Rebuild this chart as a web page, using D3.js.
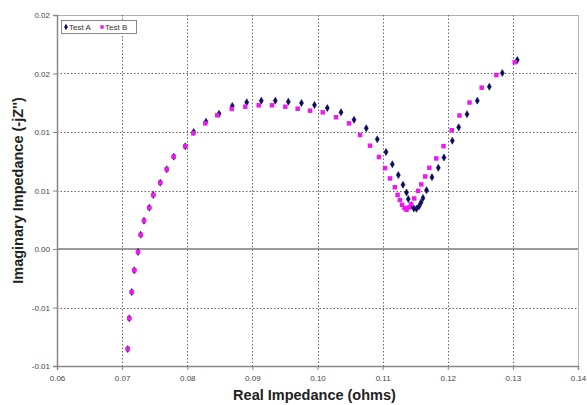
<!DOCTYPE html>
<html>
<head>
<meta charset="utf-8">
<script src="https://cdn.jsdelivr.net/npm/d3@7"></script>
<style>
body { margin: 0; background: #fff; }
</style>
</head>
<body>
<svg id="chart"></svg>
<script>
const totalWidth = 587;
const totalHeight = 405;
const margin = { left: 57, right: 9, top: 15, bottom: 39 };
const plotWidth = totalWidth - margin.left - margin.right;
const plotHeight = totalHeight - margin.top - margin.bottom;

// data (real part, imaginary part)
const seriesNames = ["Test A", "Test B"];
const testAReal = [0.07086, 0.07110, 0.07147, 0.07187, 0.07244, 0.07285, 0.07336, 0.07417, 0.07479, 0.07586,
	0.07685, 0.07792, 0.07970, 0.08099, 0.08288, 0.08488, 0.08692, 0.08913, 0.09137, 0.09352,
	0.09552, 0.09754, 0.09954, 0.10151, 0.10361, 0.10561, 0.10749, 0.10918, 0.11052, 0.11149,
	0.11241, 0.11313, 0.11367, 0.11394, 0.11440, 0.11479, 0.11520, 0.11559, 0.11589, 0.11620,
	0.11674, 0.11758, 0.11855, 0.11942, 0.12070, 0.12168, 0.12296, 0.12454, 0.12638, 0.12838,
	0.13068];
const testAImag = [-0.00855, -0.00592, -0.00368, -0.00182, -0.00026, 0.00122, 0.00242, 0.00353, 0.00462, 0.00567,
	0.00681, 0.00789, 0.00878, 0.01000, 0.01088, 0.01156, 0.01222, 0.01254, 0.01268, 0.01268,
	0.01259, 0.01248, 0.01231, 0.01205, 0.01168, 0.01105, 0.01032, 0.00938, 0.00829, 0.00724,
	0.00632, 0.00549, 0.00483, 0.00427, 0.00376, 0.00346, 0.00344, 0.00365, 0.00397, 0.00436,
	0.00503, 0.00614, 0.00694, 0.00782, 0.00925, 0.01040, 0.01152, 0.01268, 0.01387, 0.01504,
	0.01615];
const testBReal = [0.07086, 0.07110, 0.07147, 0.07187, 0.07244, 0.07285, 0.07336, 0.07417, 0.07479, 0.07586,
	0.07685, 0.07792, 0.07970, 0.08093, 0.08277, 0.08461, 0.08683, 0.08891, 0.09097, 0.09301,
	0.09506, 0.09696, 0.09885, 0.10080, 0.10284, 0.10484, 0.10653, 0.10806, 0.10944, 0.11037,
	0.11113, 0.11187, 0.11230, 0.11264, 0.11298, 0.11336, 0.11367, 0.11402, 0.11436, 0.11485,
	0.11546, 0.11594, 0.11654, 0.11717, 0.11824, 0.11935, 0.12061, 0.12180, 0.12334, 0.12521,
	0.12746, 0.13028];
const testBImag = [-0.00855, -0.00592, -0.00368, -0.00182, -0.00026, 0.00122, 0.00242, 0.00353, 0.00462, 0.00567,
	0.00681, 0.00789, 0.00878, 0.00989, 0.01074, 0.01143, 0.01197, 0.01216, 0.01228, 0.01228,
	0.01216, 0.01199, 0.01182, 0.01168, 0.01126, 0.01074, 0.00974, 0.00883, 0.00786, 0.00691,
	0.00603, 0.00528, 0.00463, 0.00419, 0.00378, 0.00349, 0.00335, 0.00355, 0.00382, 0.00432,
	0.00497, 0.00552, 0.00620, 0.00694, 0.00774, 0.00879, 0.01015, 0.01141, 0.01252, 0.01379,
	0.01487, 0.01596];

const xTicks = [0.06, 0.07, 0.08, 0.09, 0.10, 0.11, 0.12, 0.13, 0.14];
const yTicks = [-0.01, -0.005, 0, 0.005, 0.01, 0.015, 0.02];
const yTickLabels = ["-0.01", "-0.01", "0.00", "0.01", "0.01", "0.02", "0.02"];

const seriesA = testAReal.map((r, i) => ({ re: r, im: testAImag[i] }));
const seriesB = testBReal.map((r, i) => ({ re: r, im: testBImag[i] }));

const xScale = d3.scaleLinear().domain([0.06, 0.14]).range([0, plotWidth]);
const yScale = d3.scaleLinear().domain([-0.01, 0.02]).range([plotHeight, 0]);

const svg = d3.select("#chart")
	.attr("width", totalWidth)
	.attr("height", totalHeight)
	.style("font-family", "Arial, 'Liberation Sans', sans-serif");

const plot = svg.append("g").attr("transform", "translate(" + margin.left + "," + margin.top + ")");

// frame
plot.append("rect")
	.attr("x", 0.5).attr("y", 0.5)
	.attr("width", plotWidth).attr("height", plotHeight)
	.attr("fill", "none")
	.attr("stroke", "#b0b0b0");

// dotted grid
plot.append("g")
	.selectAll("line")
	.data(xTicks.slice(1, -1))
	.join("line")
	.attr("x1", (d) => Math.round(xScale(d)) + 0.5)
	.attr("x2", (d) => Math.round(xScale(d)) + 0.5)
	.attr("y1", 0).attr("y2", plotHeight)
	.attr("stroke", "#666")
	.attr("stroke-dasharray", "1.5,2");

plot.append("g")
	.selectAll("line")
	.data(yTicks.filter((d) => d !== 0 && d !== -0.01 && d !== 0.02))
	.join("line")
	.attr("x1", 0).attr("x2", plotWidth)
	.attr("y1", (d) => Math.round(yScale(d)) + 0.5)
	.attr("y2", (d) => Math.round(yScale(d)) + 0.5)
	.attr("stroke", "#666")
	.attr("stroke-dasharray", "1.5,2");

// zero line
plot.append("line")
	.attr("x1", 0).attr("x2", plotWidth)
	.attr("y1", yScale(0)).attr("y2", yScale(0))
	.attr("stroke", "#9a9a9a")
	.attr("stroke-width", 2);

// axes
const xAxisG = plot.append("g")
	.attr("transform", "translate(0," + plotHeight + ")")
	.call(d3.axisBottom(xScale).tickValues(xTicks).tickFormat(d3.format(".2f")).tickSize(4).tickPadding(5));

const yAxisG = plot.append("g")
	.call(d3.axisLeft(yScale).tickValues(yTicks).tickFormat((d, i) => yTickLabels[i]).tickSize(4).tickPadding(3));

[xAxisG, yAxisG].forEach((g) => {
	g.select(".domain").attr("stroke", "#888").attr("stroke-width", 1.5);
	g.selectAll(".tick line").attr("stroke", "#888");
	g.selectAll(".tick text").attr("fill", "#444").attr("font-size", "8px").attr("font-family", "Arial, 'Liberation Sans', sans-serif");
});

// markers
const diamond = d3.symbol().type(d3.symbolDiamond).size(14);
const square = d3.symbol().type(d3.symbolSquare).size(20);

plot.append("g")
	.selectAll("path")
	.data(seriesA)
	.join("path")
	.attr("transform", (d) => "translate(" + xScale(d.re) + "," + yScale(d.im) + ")")
	.attr("d", diamond)
	.attr("fill", "#0c0c5c")
	.attr("stroke", "#0c0c5c")
	.attr("stroke-width", 0.6);

plot.append("g")
	.selectAll("path")
	.data(seriesB)
	.join("path")
	.attr("transform", (d) => "translate(" + xScale(d.re) + "," + yScale(d.im) + ")")
	.attr("d", square)
	.attr("fill", "#f018f0");

// legend
const legend = svg.append("g").attr("transform", "translate(61,20)");
legend.append("rect")
	.attr("x", 0.5).attr("y", 0.5)
	.attr("width", 75).attr("height", 13)
	.attr("fill", "#fff")
	.attr("stroke", "#888");
legend.append("path")
	.attr("transform", "translate(5,7)")
	.attr("d", d3.symbol().type(d3.symbolDiamond).size(12))
	.attr("fill", "#0c0c5c");
legend.append("text")
	.attr("x", 8).attr("y", 10)
	.attr("font-size", "8px")
	.attr("fill", "#333")
	.text(seriesNames[0]);
legend.append("path")
	.attr("transform", "translate(41,7)")
	.attr("d", d3.symbol().type(d3.symbolSquare).size(12))
	.attr("fill", "#f018f0");
legend.append("text")
	.attr("x", 44).attr("y", 10)
	.attr("font-size", "8px")
	.attr("fill", "#333")
	.text(seriesNames[1]);

// axis titles
svg.append("text")
	.attr("x", margin.left + plotWidth / 2 - 3)
	.attr("y", 400)
	.attr("text-anchor", "middle")
	.attr("font-size", "14.5px")
	.attr("font-weight", "bold")
	.attr("fill", "#222")
	.text("Real Impedance (ohms)");

svg.append("text")
	.attr("transform", "translate(23," + (margin.top + plotHeight / 2) + ") rotate(-90)")
	.attr("text-anchor", "middle")
	.attr("font-size", "14.5px")
	.attr("font-weight", "bold")
	.attr("fill", "#222")
	.text("Imaginary Impedance (-jZ'')");
</script>
</body>
</html>
